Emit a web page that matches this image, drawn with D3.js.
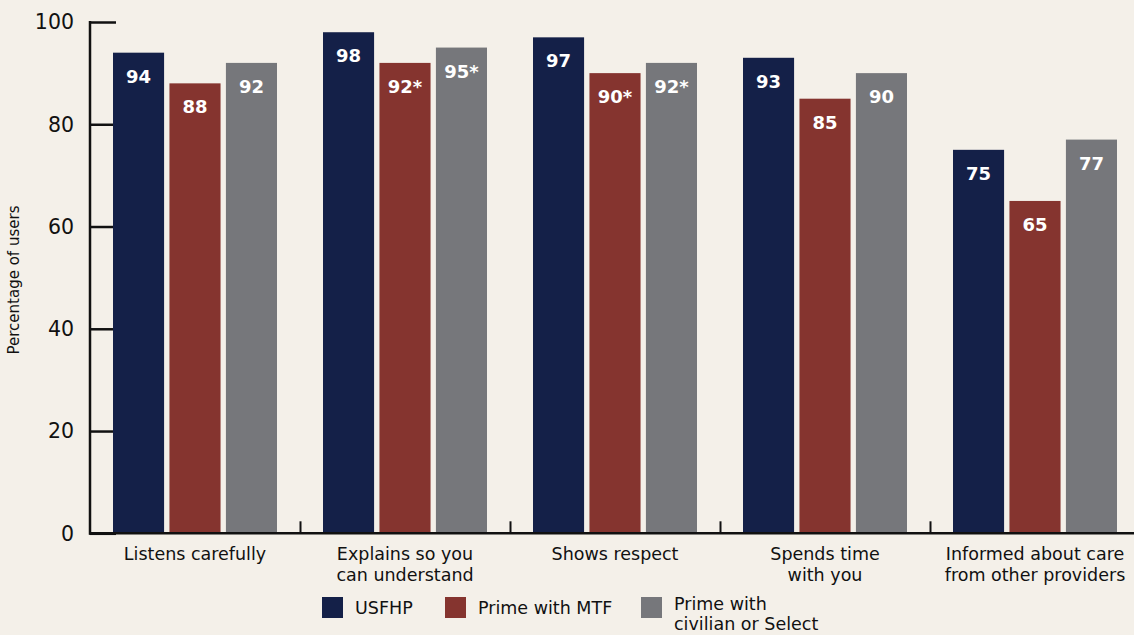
<!DOCTYPE html>
<html><head><meta charset="utf-8">
<script src="https://cdn.jsdelivr.net/npm/d3@7"></script>
<style>
html,body{margin:0;padding:0;background:#f4f0e9;}
svg{display:block;font-family:"DejaVu Sans",sans-serif;}
</style></head>
<body><svg id="c" width="1134" height="635"></svg>
<script>
const categories = [["Listens carefully"],["Explains so you","can understand"],["Shows respect"],["Spends time","with you"],["Informed about care","from other providers"]];
const seriesNames = ["USFHP","Prime with MTF","Prime with civilian or Select"];
const usfhp = [94,98,97,93,75];
const primeMTF = [88,92,90,85,65];
const primeCivilian = [92,95,92,90,77];
const labelsUSFHP = ["94","98","97","93","75"];
const labelsMTF = ["88","92*","90*","85","65"];
const labelsCivilian = ["92","95*","92*","90","77"];
const yTicks = [0,20,40,60,80,100];
const colors = ["#142048","#85342f","#76777b"];

(function(){
const svg = d3.select("#c");
const mL = 90, mR = 1140, mT = 22, mB = 533.3;
const x = d3.scaleBand().domain(d3.range(categories.length)).range([mL,mR]).paddingInner(0).paddingOuter(0);
const xs = d3.scaleBand().domain([0,1,2]).range([23,187]).paddingInner(0.095).paddingOuter(0);
const y = d3.scaleLinear().domain([0,100]).range([mB,mT]);

const series = [usfhp,primeMTF,primeCivilian];
const labels = [labelsUSFHP,labelsMTF,labelsCivilian];

// y axis
const yAxis = svg.append("g").attr("transform",`translate(${mL},0)`)
  .call(d3.axisRight(y).tickValues(yTicks).tickSize(26).tickFormat(""));
yAxis.select(".domain").remove();
yAxis.selectAll("line").attr("stroke","#111").attr("stroke-width",2.5);
svg.append("line").attr("x1",mL).attr("x2",mL).attr("y1",mT-1).attr("y2",mB+1.5).attr("stroke","#111").attr("stroke-width",2.5);
svg.append("g").selectAll("text").data(yTicks).join("text")
  .attr("x",74).attr("y",d=>y(d)).attr("dy","0.36em").attr("text-anchor","end")
  .attr("font-size",20.5).attr("fill","#111").text(d=>d);

// bars
series.forEach((s,si)=>{
  const g = svg.append("g");
  g.selectAll("rect").data(s).join("rect")
    .attr("x",(d,i)=>x(i)+xs(si)).attr("width",xs.bandwidth())
    .attr("y",d=>y(d)).attr("height",d=>y(0)-y(d)).attr("fill",colors[si]);
  g.selectAll("text").data(s).join("text")
    .attr("x",(d,i)=>x(i)+xs(si)+xs.bandwidth()/2).attr("y",d=>y(d)+30)
    .attr("text-anchor","middle").attr("fill","#fff").attr("font-weight","bold").attr("font-size",18)
    .text((d,i)=>labels[si][i]);
});

// x axis
const xAxis = svg.append("g").attr("transform",`translate(0,${mB})`)
  .call(d3.axisTop(d3.scaleLinear().domain([0,5]).range([mL,mR])).tickValues([1,2,3,4,5]).tickSize(12).tickFormat(""));
xAxis.select(".domain").remove();
xAxis.selectAll("line").attr("stroke","#111").attr("stroke-width",2);
svg.append("line").attr("x1",mL-1).attr("x2",1134).attr("y1",mB).attr("y2",mB).attr("stroke","#111").attr("stroke-width",2.5);

// category labels
const cl = svg.append("g");
categories.forEach((lines,i)=>{
  const t = cl.append("text").attr("text-anchor","middle").attr("font-size",17.5).attr("fill","#111")
    .attr("transform",`translate(${x(i)+x.bandwidth()/2},560)`);
  lines.forEach((ln,k)=>t.append("tspan").attr("x",0).attr("y",k*21).text(ln));
});

// y title
svg.append("text").attr("transform","translate(19,280) rotate(-90)").attr("text-anchor","middle")
  .attr("font-size",15).attr("fill","#111").text("Percentage of users");

// legend
const legX = [322,445,641];
const legLines = [["USFHP"],["Prime with MTF"],["Prime with","civilian or Select"]];
seriesNames.forEach((n,i)=>{
  svg.append("rect").attr("x",legX[i]).attr("y",597).attr("width",21).attr("height",21).attr("fill",colors[i]);
  const t = svg.append("text").attr("font-size",17.5).attr("fill","#111");
  const ll = legLines[i];
  ll.forEach((ln,k)=>t.append("tspan").attr("x",legX[i]+33).attr("y",ll.length===1?614:610+k*20).text(ln));
});
})();
</script></body></html>
